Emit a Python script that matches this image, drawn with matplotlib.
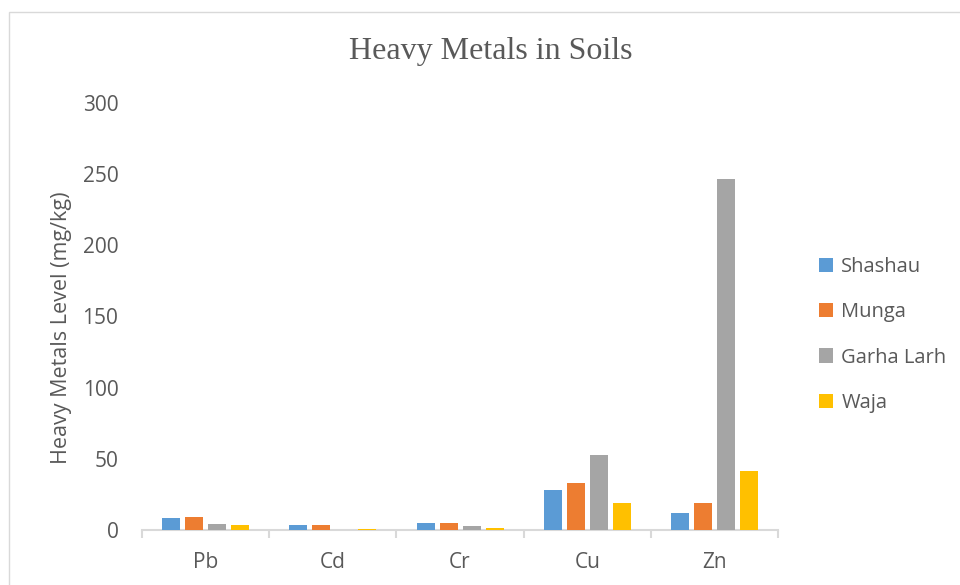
import matplotlib
matplotlib.use("Agg")
import matplotlib.pyplot as plt
from matplotlib.patches import Rectangle
import numpy as np

metals = ["Pb", "Cd", "Cr", "Cu", "Zn"]
shashau = [8.2, 3.7, 5.1, 27.9, 11.9]
munga = [8.9, 3.7, 5.1, 33.2, 18.9]
garha_larh = [4.4, 0.0, 2.5, 52.4, 246.6]
waja = [3.5, 1.0, 1.6, 18.7, 41.4]

series_names = ["Shashau", "Munga", "Garha Larh", "Waja"]
series_values = [shashau, munga, garha_larh, waja]
colors = ["#5b9bd5", "#ed7d31", "#a5a5a5", "#ffc000"]

y_ticks = [0, 50, 100, 150, 200, 250, 300]

text_color = "#595959"
sans = ["Open Sans", "DejaVu Sans"]

fig = plt.figure(figsize=(9.6, 5.85), dpi=100)
fig.patch.set_facecolor("white")

# light chart border
fig.add_artist(Rectangle((9 / 960, -0.05), 1.2, 1 - 12 / 585 + 0.05,
                         transform=fig.transFigure, fill=False,
                         edgecolor="#d9d9d9", linewidth=1.0))

ax = fig.add_axes([142 / 960, 1 - 530 / 585, (778 - 142) / 960, (530 - 103) / 585])

x = np.arange(len(metals))
step = 23 / 127.2
width = 18 / 127.2
offsets = (np.arange(len(series_names)) - 1.5) * step
for vals, name, c, off in zip(series_values, series_names, colors, offsets):
    ax.bar(x + off, vals, width=width, color=c, label=name, zorder=3)

ax.set_xlim(-0.5, len(metals) - 0.5)
ax.set_ylim(0, 300)
ax.set_yticks(y_ticks)
ax.set_yticklabels([str(t) for t in y_ticks], fontsize=15, color=text_color, family=sans)
ax.tick_params(axis="y", length=0, pad=17)

ax.set_xticks(x)
ax.set_xticklabels(metals, fontsize=15, color=text_color, family=sans)
ax.set_xticks(np.arange(len(metals) + 1) - 0.5, minor=True)
ax.tick_params(axis="x", which="major", length=0, pad=16)
ax.tick_params(axis="x", which="minor", length=6, width=1.5, color="#d9d9d9")

for s in ["top", "right", "left"]:
    ax.spines[s].set_visible(False)
ax.spines["bottom"].set_color("#d9d9d9")
ax.spines["bottom"].set_linewidth(1.5)

fig.text(62 / 960, 1 - 328 / 585, "Heavy Metals Level (mg/kg)", rotation=90,
         ha="center", va="center", fontsize=15.5, color=text_color, family=sans)

fig.text(491 / 960, 1 - 52 / 585, "Heavy Metals in Soils", ha="center", va="center",
         fontsize=23, color=text_color, family=["Liberation Serif", "DejaVu Serif"])

leg = ax.legend(loc="center left", bbox_to_anchor=(801 / 960, 1 - 335 / 585),
                bbox_transform=fig.transFigure, frameon=False,
                prop={"family": sans, "size": 14.5}, handlelength=0.7,
                handleheight=0.7, handletextpad=0.4, labelspacing=1.25)
for t in leg.get_texts():
    t.set_color(text_color)

fig.savefig("out.png", dpi=100)
